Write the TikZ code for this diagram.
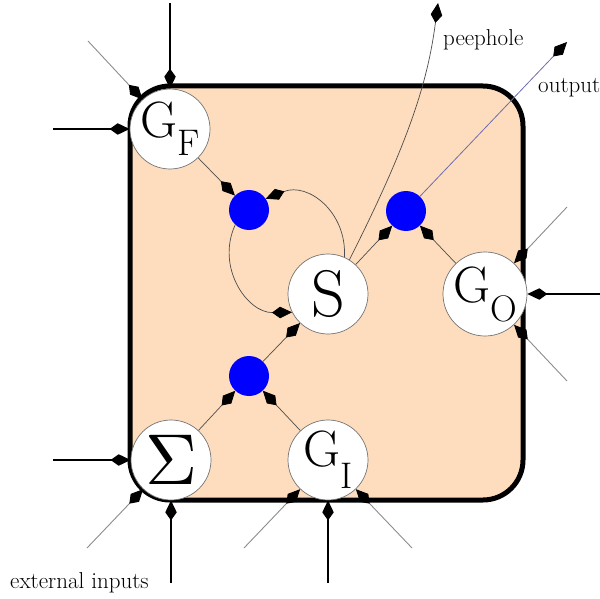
\documentclass[tikz,border=0pt]{standalone}
\usepackage{graphicx}
\usetikzlibrary{arrows.meta}
\definecolor{peach}{RGB}{253,221,189}
\definecolor{outcol}{RGB}{110,110,175}
\newcommand{\gatelbl}[2]{{\fontsize{51}{51}\selectfont G}\raisebox{-#2}{\fontsize{37}{37}\selectfont #1}}
\begin{document}
\begin{tikzpicture}[x=1pt,y=-1pt,
  >={Kite[length=20pt,width=11.5pt,inset=8pt,color=black]},
  gatecirc/.style={circle,draw=black!55,line width=0.7pt,fill=white,minimum size=80pt,inner sep=0pt},
  bluedot/.style={circle,fill=blue,minimum size=40pt,inner sep=0pt},
  extarrow/.style={draw=black,line width=1.6pt,->},
  extthin/.style={draw=black!45,line width=0.9pt,->},
  intarrow/.style={draw=black!70,line width=0.7pt,->},
  lbltxt/.style={inner sep=0pt,anchor=base west,font=\fontsize{23}{23}\selectfont}]
\useasboundingbox (0,0) rectangle (600,599);
\draw[fill=peach,line width=5pt,rounded corners=40pt] (130,86) rectangle (523,500);

\node[gatecirc] (GF) at (170,129) {\gatelbl{F}{18pt}};
\node[gatecirc] (S) at (328,294) {\fontsize{66}{66}\selectfont S};
\node[gatecirc] (GO) at (485,294) {\gatelbl{O}{19pt}};
\node[gatecirc] (SG) at (171,460) {\scalebox{7.2}{$\Sigma$}};
\node[gatecirc] (GI) at (328,460) {\gatelbl{I}{22pt}};
\node[bluedot] (B1) at (249,210) {};
\node[bluedot] (B2) at (406,211) {};
\node[bluedot] (B3) at (249,376) {};

\coordinate (gfT) at (170,3);
\coordinate (gfL) at (53,129);
\coordinate (gfD) at (88,41);
\coordinate (sgL) at (53,460);
\coordinate (sgB) at (171,583);
\coordinate (sgD) at (87,548);
\coordinate (giB) at (328,583);
\coordinate (giDL) at (244,548);
\coordinate (giDR) at (412,548);
\coordinate (goR) at (600,294);
\coordinate (goU) at (567,207);
\coordinate (goD) at (567,381);
\coordinate (outE) at (567,42);
\coordinate (peepE) at (438,3);

\draw[extarrow] (gfT) -- (GF);
\draw[extarrow] (gfL) -- (GF);
\draw[extthin] (gfD) -- (GF);
\draw[extarrow] (sgL) -- (SG);
\draw[extarrow] (sgB) -- (SG);
\draw[extthin] (sgD) -- (SG);
\draw[extarrow] (giB) -- (GI);
\draw[extthin] (giDL) -- (GI);
\draw[extthin] (giDR) -- (GI);
\draw[extarrow] (goR) -- (GO);
\draw[extthin] (goU) -- (GO);
\draw[extthin] (goD) -- (GO);

\draw[intarrow] (GF) -- (B1);
\draw[intarrow] (S) -- (B2);
\draw[intarrow] (GO) -- (B2);
\draw[intarrow] (B3) -- (S);
\draw[intarrow] (SG) -- (B3);
\draw[intarrow] (GI) -- (B3);
\draw[intarrow] (S.66) .. controls (347,212) and (308,182) .. (B1.34);
\draw[intarrow] (B1.227) .. controls (215.6,267.5) and (247.3,313) .. (S.207);
\draw[intarrow] (S.58) .. controls (410,140) and (428,80) .. (peepE);
\draw[draw=outcol,line width=0.8pt,->] (B2) -- (outE);

\node[lbltxt] (peep) at (443,46) {peephole};
\node[lbltxt] (outl) at (538,93) {output};
\node[lbltxt] (extl) at (10,588) {external inputs};
\end{tikzpicture}
\end{document}
